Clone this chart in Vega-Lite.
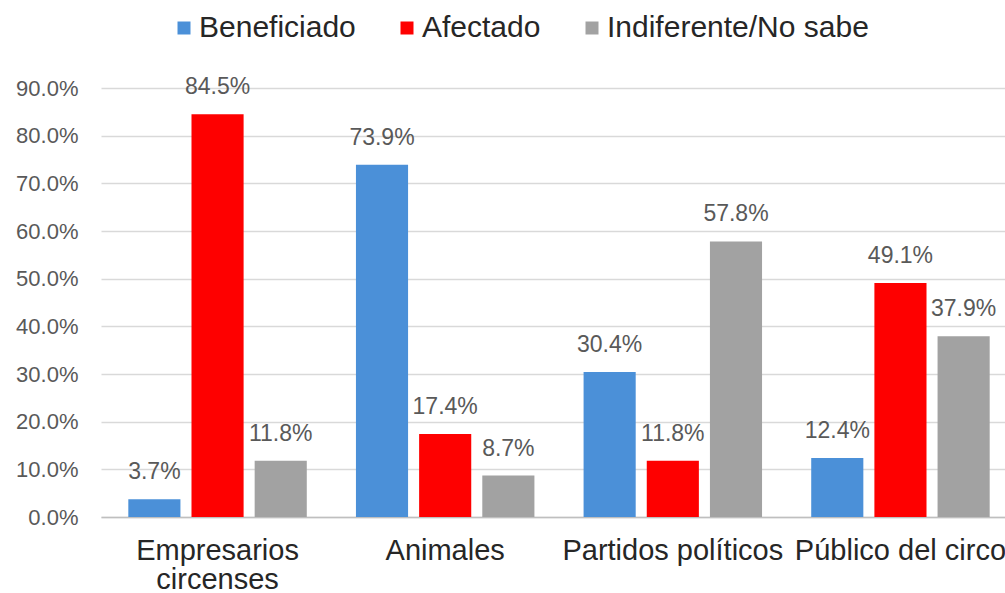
{
  "$schema": "https://vega.github.io/schema/vega-lite/v6.json",
  "autosize": {"type": "none"},
  "padding": {"left": 101, "top": 88, "right": -12, "bottom": 76},
  "width": 916,
  "height": 429,
  "background": "white",
  "config": {
    "view": {"stroke": null},
    "font": "Liberation Sans"
  },
  "data": {
    "values": [
      {"grupo": "Empresarios circenses", "serie": "Beneficiado", "valor": 0.037},
      {"grupo": "Empresarios circenses", "serie": "Afectado", "valor": 0.845},
      {"grupo": "Empresarios circenses", "serie": "Indiferente/No sabe", "valor": 0.118},
      {"grupo": "Animales", "serie": "Beneficiado", "valor": 0.739},
      {"grupo": "Animales", "serie": "Afectado", "valor": 0.174},
      {"grupo": "Animales", "serie": "Indiferente/No sabe", "valor": 0.087},
      {"grupo": "Partidos políticos", "serie": "Beneficiado", "valor": 0.304},
      {"grupo": "Partidos políticos", "serie": "Afectado", "valor": 0.118},
      {"grupo": "Partidos políticos", "serie": "Indiferente/No sabe", "valor": 0.578},
      {"grupo": "Público del circo", "serie": "Beneficiado", "valor": 0.124},
      {"grupo": "Público del circo", "serie": "Afectado", "valor": 0.491},
      {"grupo": "Público del circo", "serie": "Indiferente/No sabe", "valor": 0.379}
    ]
  },
  "encoding": {
    "x": {
      "field": "grupo",
      "type": "nominal",
      "sort": ["Empresarios circenses", "Animales", "Partidos políticos", "Público del circo"],
      "scale": {"paddingInner": 0.216, "paddingOuter": 0.12},
      "axis": {
        "title": null,
        "labelAngle": 0,
        "labelFontSize": 29,
        "labelColor": "#262626",
        "labelPadding": 19,
        "labelLineHeight": 29,
        "labelBaseline": "top",
        "labelLimit": 0,
        "ticks": false,
        "domainColor": "#bfbfbf",
        "domainWidth": 1.5,
        "grid": false,
        "labelExpr": "datum.label == 'Empresarios circenses' ? ['Empresarios', 'circenses'] : datum.label"
      }
    },
    "xOffset": {
      "field": "serie",
      "type": "nominal",
      "sort": ["Beneficiado", "Afectado", "Indiferente/No sabe"],
      "scale": {"paddingInner": 0.175, "paddingOuter": 0}
    },
    "y": {
      "field": "valor",
      "type": "quantitative",
      "scale": {"domain": [0, 0.9], "nice": false},
      "axis": {
        "title": null,
        "format": ".1%",
        "values": [0, 0.1, 0.2, 0.3, 0.4, 0.5, 0.6, 0.7, 0.8, 0.9],
        "labelFontSize": 22,
        "labelColor": "#595959",
        "labelPadding": 23,
        "ticks": false,
        "domain": false,
        "gridColor": "#d9d9d9",
        "gridWidth": 1.5
      }
    }
  },
  "layer": [
    {
      "mark": {"type": "bar"},
      "encoding": {
        "color": {
          "field": "serie",
          "type": "nominal",
          "sort": ["Beneficiado", "Afectado", "Indiferente/No sabe"],
          "scale": {
            "domain": ["Beneficiado", "Afectado", "Indiferente/No sabe"],
            "range": ["#4b90d8", "#fe0000", "#a2a2a2"]
          },
          "legend": {
            "title": null,
            "orient": "none",
            "direction": "horizontal",
            "legendX": 68,
            "legendY": -75,
            "symbolType": "square",
            "symbolSize": 169,
            "symbolStrokeWidth": 0,
            "labelFontSize": 30,
            "labelColor": "#262626",
            "labelOffset": 0,
            "labelLimit": 0,
            "columnPadding": 36
          }
        }
      }
    },
    {
      "mark": {"type": "text", "baseline": "alphabetic", "dy": -20, "fontSize": 23, "color": "#595959"},
      "encoding": {
        "text": {"field": "valor", "type": "quantitative", "format": ".1%"}
      }
    }
  ]
}
